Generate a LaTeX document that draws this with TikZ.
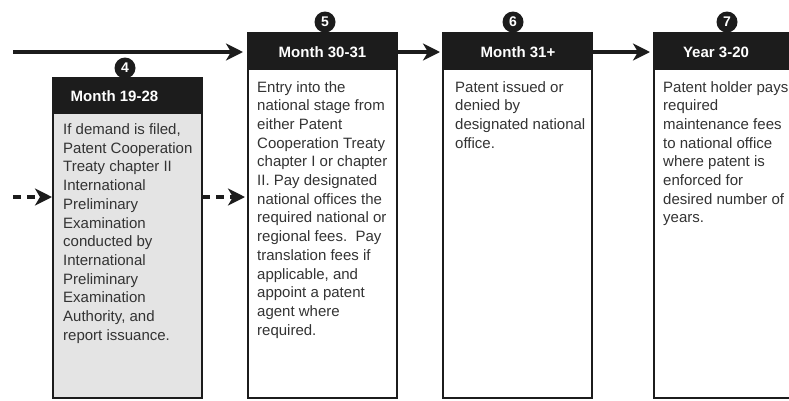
\documentclass[tikz,border=0pt]{standalone}
\usepackage{fontspec}
\setmainfont{Liberation Sans}
\usetikzlibrary{arrows.meta}
\definecolor{hdr}{HTML}{1C1C1C}
\definecolor{bodygray}{HTML}{E4E4E4}
\definecolor{txt}{HTML}{333333}
\begin{document}
\begin{tikzpicture}[x=1pt,y=-1pt,
  hdrbox/.style={draw=hdr, fill=hdr, line width=1.6pt, minimum width=149pt, minimum height=36pt, anchor=north west, inner sep=0pt, outer sep=0pt},
  bodybox/.style={draw=hdr, line width=1.6pt, minimum width=149pt, anchor=north west, inner sep=0pt, outer sep=0pt},
  hdrtext/.style={text=white, font=\fontsize{15}{18}\selectfont\bfseries, inner sep=0pt},
  bodytext/.style={text=txt, font=\fontsize{15}{18.7}\selectfont, align=left, anchor=north west, inner sep=0pt},
  stepnum/.style={circle, fill=hdr, text=white, minimum size=21pt, inner sep=0pt, font=\fontsize{14}{14}\selectfont\bfseries},
  flow/.style={line width=3.2pt, draw=hdr, -{Stealth[length=17pt,width=17pt,inset=5pt]}},
  dflow/.style={flow, dash pattern=on 8pt off 6pt}
]
\clip (0,0) rectangle (789,400);
\fill[white] (0,0) rectangle (789,400);

% Box 4
\node[hdrbox] (h4) at (53,78) {};
\node[bodybox, fill=bodygray, minimum height=285pt] (b4) at (53,113) {};
\node[hdrtext] (l4) at (114.5,96) {Month 19-28};
\node[bodytext] (t4) at (63,123.5) {If demand is filed,\\Patent Cooperation\\Treaty chapter II\\International\\Preliminary\\Examination\\conducted by\\International\\Preliminary\\Examination\\Authority, and\\report issuance.};
\node[stepnum] (n4) at (125,68) {4};

% Box 5
\node[hdrbox] (h5) at (248,33) {};
\node[bodybox, minimum height=329pt] (b5) at (248,69) {};
\node[hdrtext] (l5) at (322.5,52) {Month 30-31};
\node[bodytext] (t5) at (257,81) {Entry into the\\national stage from\\either Patent\\Cooperation Treaty\\chapter I or chapter\\II. Pay designated\\national offices the\\required national or\\regional fees.\ \ Pay\\translation fees if\\applicable, and\\appoint a patent\\agent where\\required.};
\node[stepnum] (n5) at (325,22) {5};

% Box 6
\node[hdrbox] (h6) at (443,33) {};
\node[bodybox, minimum height=329pt] (b6) at (443,69) {};
\node[hdrtext] (l6) at (518,52) {Month 31+};
\node[bodytext] (t6) at (455,81) {Patent issued or\\denied by\\designated national\\office.};
\node[stepnum] (n6) at (513,22) {6};

% Box 7
\node[hdrbox] (h7) at (654,33) {};
\node[bodybox, minimum height=329pt] (b7) at (654,69) {};
\node[hdrtext] (l7) at (716,52) {Year 3-20};
\node[bodytext] (t7) at (663,81) {Patent holder pays\\required\\maintenance fees\\to national office\\where patent is\\enforced for\\desired number of\\years.};
\node[stepnum] (n7) at (727,22) {7};

% Connectors
\coordinate (s0) at (13,52);
\coordinate (d0) at (13,197);
\draw[flow, shorten >=5pt] (s0) -- (s0 -| h5.west);
\draw[flow, shorten >=3pt] (h5.east |- s0) -- (h6.west |- s0);
\draw[flow, shorten >=4pt] (h6.east |- s0) -- (h7.west |- s0);
\draw[dflow, shorten >=1pt] (d0) -- (b4.west |- d0);
\draw[dflow, shorten >=3pt] (b4.east |- d0) -- (b5.west |- d0);
\end{tikzpicture}
\end{document}
